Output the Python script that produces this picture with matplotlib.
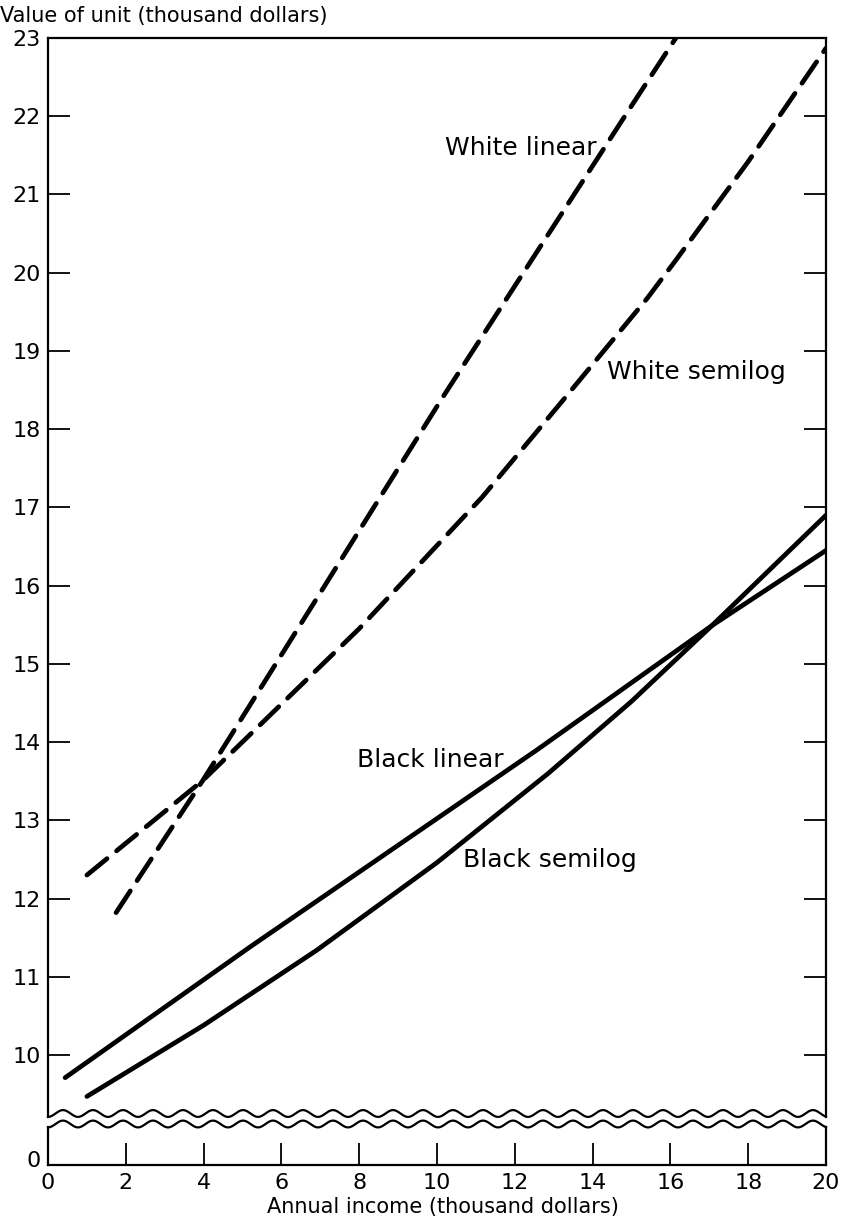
import numpy as np
import matplotlib
matplotlib.use("Agg")
import matplotlib.pyplot as plt
from matplotlib.lines import Line2D

# ---- data (x: thousand dollars income, y: thousand dollars value)
white_linear_x = [1.75, 3.98, 10.15, 15.01, 16.14]
white_linear_y = [11.82, 13.51, 18.41, 22.14, 23.0]

white_semilog_x = [1.0, 3.98, 8.0, 11.16, 13.29, 15.40, 16.17, 18.0, 20.0]
white_semilog_y = [12.30, 13.51, 15.45, 17.13, 18.40, 19.67, 20.18, 21.42, 22.87]

black_linear_x = [0.44, 5.19, 12.57, 17.07, 20.0]
black_linear_y = [9.71, 11.38, 13.90, 15.49, 16.45]

black_semilog_x = [1.0, 4.0, 6.91, 10.0, 12.86, 15.0, 17.07, 20.0]
black_semilog_y = [9.47, 10.38, 11.34, 12.46, 13.60, 14.52, 15.49, 16.90]

x_ticks = list(range(0, 21, 2))
y_ticks = list(range(10, 24))

labels = {
    "White linear": (10.2, 21.6),
    "White semilog": (14.37, 18.73),
    "Black linear": (7.94, 13.77),
    "Black semilog": (10.67, 12.49),
}

W, H = 842, 1218
fig = plt.figure(figsize=(W / 100, H / 100), dpi=100)

def fx(px):
    return px / W

def fy(py):
    return (H - py) / H

left_px, right_px = 48, 826
top_px, top_bottom_px = 38, 1117
bot_top_px, bot_bottom_px = 1127, 1165

ax = fig.add_axes([fx(left_px), fy(top_bottom_px), fx(right_px) - fx(left_px),
                   fy(top_px) - fy(top_bottom_px)])
axb = fig.add_axes([fx(left_px), fy(bot_bottom_px), fx(right_px) - fx(left_px),
                    fy(bot_top_px) - fy(bot_bottom_px)])

ylow = 23 - (top_bottom_px - top_px) / ((1055 - 38) / 13.0)
ax.set_xlim(0, 20)
ax.set_ylim(ylow, 23)
axb.set_xlim(0, 20)
axb.set_ylim(0, 1)

lw = 3.4
dash_kw = dict(color="black", lw=lw, dashes=(5.5, 2.6), dash_capstyle="round",
               solid_capstyle="round")
ax.plot(white_linear_x, white_linear_y, **dash_kw)
ax.plot(white_semilog_x, white_semilog_y, **dash_kw)
ax.plot(black_linear_x, black_linear_y, color="black", lw=lw, solid_capstyle="round")
ax.plot(black_semilog_x, black_semilog_y, color="black", lw=lw, solid_capstyle="round")

for txt, (x, y) in labels.items():
    ax.text(x, y, txt, fontsize=18, ha="left", va="center", color="black")

# spines
for a in (ax, axb):
    for s in a.spines.values():
        s.set_linewidth(1.6)
ax.spines["bottom"].set_visible(False)
axb.spines["top"].set_visible(False)

tick_len = 15.5
ax.set_yticks(y_ticks)
ax.set_yticklabels([str(v) for v in y_ticks])
ax.tick_params(axis="y", which="both", direction="in", length=tick_len, width=1.3,
               left=True, right=True, labelleft=True, labelright=False,
               labelsize=16, pad=5)
ax.set_xticks([])

axb.set_yticks([0.15])
axb.set_yticklabels(["0"])
axb.tick_params(axis="y", direction="in", length=0, labelsize=16, pad=5)
axb.set_xticks(x_ticks)
axb.set_xticklabels([str(v) for v in x_ticks])
axb.tick_params(axis="x", direction="in", length=tick_len, width=1.3,
                labelsize=16, pad=6)

# wavy break lines
xs = np.linspace(left_px, right_px, 800)
period = 30.0
amp = 3.4
for c in (1113.5, 1124.0):
    ys = c + amp * np.cos(2 * np.pi * (xs - left_px) / period)
    fig.add_artist(Line2D(fx(xs), fy(ys), color="black", lw=1.6,
                          transform=fig.transFigure))

fig.text(0.0, fy(16), "Value of unit (thousand dollars)", fontsize=15,
         ha="left", va="center")
fig.text(fx(443), fy(1207), "Annual income (thousand dollars)", fontsize=15,
         ha="center", va="center")

fig.savefig("out.png", dpi=100)
